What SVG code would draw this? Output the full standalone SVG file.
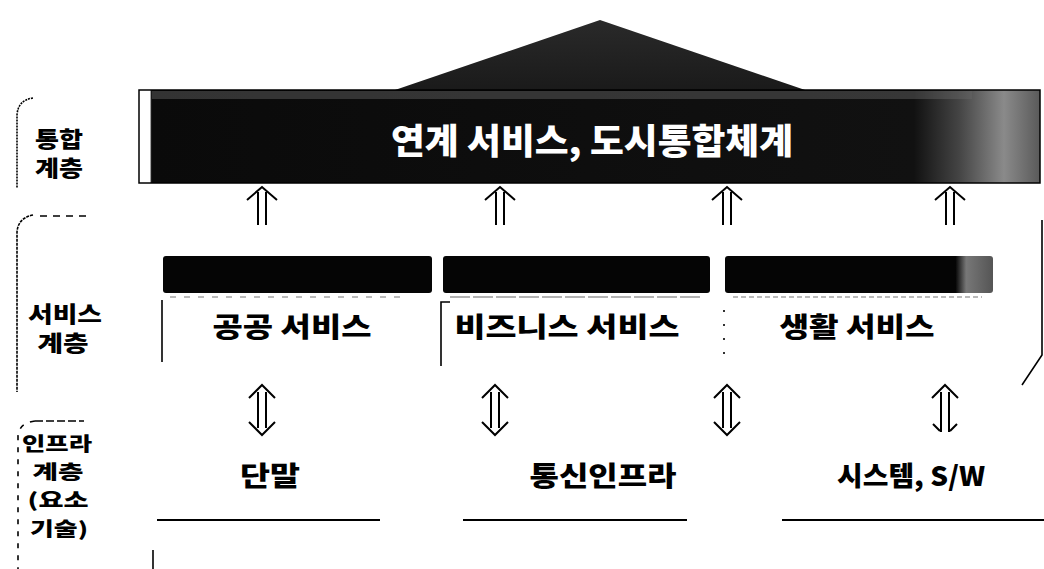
<svg xmlns="http://www.w3.org/2000/svg" width="1044" height="569" viewBox="0 0 1044 569">
<defs>
<style>
.lbl{font-family:"Noto Sans CJK KR","Liberation Sans",sans-serif;font-weight:900;fill:#000;text-anchor:middle}
.svc{font-size:27px}
.side{font-size:22px}
.side2{font-size:19px}
.arr{fill:none;stroke:#000;stroke-width:2}
.brk{fill:none;stroke:#000;stroke-width:1.6}
.uline{stroke:#000;stroke-width:2}
</style>
<linearGradient id="banner" x1="0" y1="0" x2="1" y2="0">
<stop offset="0" stop-color="#ffffff"/>
<stop offset="0.012" stop-color="#ffffff"/>
<stop offset="0.014" stop-color="#0a0a0a"/>
<stop offset="0.86" stop-color="#111"/>
<stop offset="0.91" stop-color="#444"/>
<stop offset="0.96" stop-color="#8a8a8a"/>
<stop offset="1" stop-color="#5a5a5a"/>
</linearGradient>
<linearGradient id="roof" x1="0" y1="0" x2="0" y2="1">
<stop offset="0" stop-color="#2a2a2a"/>
<stop offset="1" stop-color="#1a1a1a"/>
</linearGradient>
<linearGradient id="bar3" x1="0" y1="0" x2="1" y2="0">
<stop offset="0" stop-color="#050505"/>
<stop offset="0.86" stop-color="#050505"/>
<stop offset="0.9" stop-color="#777"/>
<stop offset="1" stop-color="#555"/>
</linearGradient>
</defs>
<rect width="1044" height="569" fill="#fff"/>

<g id="layer-labels">
<g id="label-integration">
<path class="brk" d="M33,98 Q18,100 17,115 V188" stroke-dasharray="2,1"/>
<text class="lbl side" x="59" y="147" textLength="48" lengthAdjust="spacingAndGlyphs">통합</text>
<text class="lbl side" x="59" y="176" textLength="48" lengthAdjust="spacingAndGlyphs">계층</text>
</g>
<g id="label-service">
<path class="brk" d="M33,215 Q18,218 17,232 V392" stroke-dasharray="3,1"/>
<path class="brk" d="M40,216 H90" stroke-dasharray="7,6"/>
<text class="lbl side" x="65" y="322" textLength="74" lengthAdjust="spacingAndGlyphs">서비스</text>
<text class="lbl side" x="63" y="351" textLength="51" lengthAdjust="spacingAndGlyphs">계층</text>
</g>
<g id="label-infra">
<path class="brk" d="M35,421 Q19,423 18,436 V569" stroke-dasharray="5,7"/>
<path class="brk" d="M35,421 H84" stroke-dasharray="8,3"/>
<text class="lbl side2" x="57" y="451" textLength="70" lengthAdjust="spacingAndGlyphs">인프라</text>
<text class="lbl side2" x="58" y="479" textLength="51" lengthAdjust="spacingAndGlyphs">계층</text>
<text class="lbl side2" x="58" y="507" textLength="61" lengthAdjust="spacingAndGlyphs">(요소</text>
<text class="lbl side2" x="59" y="536" textLength="58" lengthAdjust="spacingAndGlyphs">기술)</text>
</g>
</g>

<g id="integration">
<polygon points="392,91 600,20 808,91" fill="url(#roof)"/>
<rect x="139" y="90" width="901" height="93" fill="url(#banner)" stroke="#000" stroke-width="1.5"/>
<rect x="152" y="91" width="820" height="8" fill="#666" opacity="0.45"/>
<text class="lbl" x="592" y="154" font-size="35" style="fill:#fff" textLength="402" lengthAdjust="spacingAndGlyphs">연계 서비스, 도시통합체계</text>
</g>

<g id="svc-public">
<rect x="163" y="256" width="269" height="37" rx="3" fill="#050505"/>
<path d="M170,297 H400" stroke="#777" stroke-width="1" stroke-dasharray="6,8"/>
<path d="M162,300 V362" stroke="#000" stroke-width="1.6"/>
<text class="lbl svc" x="292" y="337" textLength="159" lengthAdjust="spacingAndGlyphs">공공 서비스</text>
</g>
<g id="svc-business">
<rect x="443" y="256" width="267" height="37" rx="3" fill="#050505"/>
<path d="M450,297 H700" stroke="#666" stroke-width="1.2" stroke-dasharray="20,3"/>
<path d="M450,302 H441 V366" fill="none" stroke="#000" stroke-width="1.6"/>
<text class="lbl svc" x="567" y="337" textLength="225" lengthAdjust="spacingAndGlyphs">비즈니스 서비스</text>
</g>
<g id="svc-life">
<rect x="725" y="256" width="268" height="37" rx="3" fill="url(#bar3)"/>
<path d="M733,297 H982" stroke="#777" stroke-width="1.2" stroke-dasharray="5,3"/>
<path d="M724,310 V362" stroke="#000" stroke-width="1.6" stroke-dasharray="2,12"/>
<text class="lbl svc" x="857" y="337" textLength="155" lengthAdjust="spacingAndGlyphs">생활 서비스</text>
</g>

<g id="infra-terminal">
<text class="lbl svc" x="270" y="486" textLength="60" lengthAdjust="spacingAndGlyphs">단말</text>
<path class="uline" d="M157,520 H380"/>
</g>
<g id="infra-network">
<text class="lbl svc" x="603" y="486" textLength="147" lengthAdjust="spacingAndGlyphs">통신인프라</text>
<path class="uline" d="M463,520 H687"/>
</g>
<g id="infra-system">
<text class="lbl svc" x="911" y="486" textLength="148" lengthAdjust="spacingAndGlyphs">시스템, S/W</text>
<path class="uline" d="M782,520 H1044"/>
</g>

<g id="connectors">
<g id="up-arrows">
<path class="arr" d="M247,200 L262,187 L277,200 M258,192 V225 M266,192 V225"/>
<path class="arr" d="M485,200 L500,187 L515,200 M496,192 V225 M504,192 V225"/>
<path class="arr" d="M712,200 L727,187 L742,200 M723,192 V225 M731,192 V225"/>
<path class="arr" d="M935,200 L950,187 L965,200 M946,192 V225 M954,192 V225"/>
</g>
<g id="double-arrows">
<path class="arr" d="M249,398 L262,385 L275,398 M249,422 L262,435 L275,422 M258,392 V428 M266,392 V428"/>
<path class="arr" d="M482,398 L495,385 L508,398 M482,422 L495,435 L508,422 M491,392 V428 M499,392 V428"/>
<path class="arr" d="M714,398 L727,385 L740,398 M714,422 L727,435 L740,422 M723,392 V428 M731,392 V428"/>
<path class="arr" d="M932,398 L945,385 L958,398 M933,424 L940,431 M957,424 L950,431 M941,392 V432 M949,392 V432"/>
</g>
</g>

<g id="frame-marks">
<path d="M1042,220 V355 L1022,385" fill="none" stroke="#000" stroke-width="1.6"/>
<path d="M153,550 V569" stroke="#000" stroke-width="1.6"/>
</g>
</svg>
